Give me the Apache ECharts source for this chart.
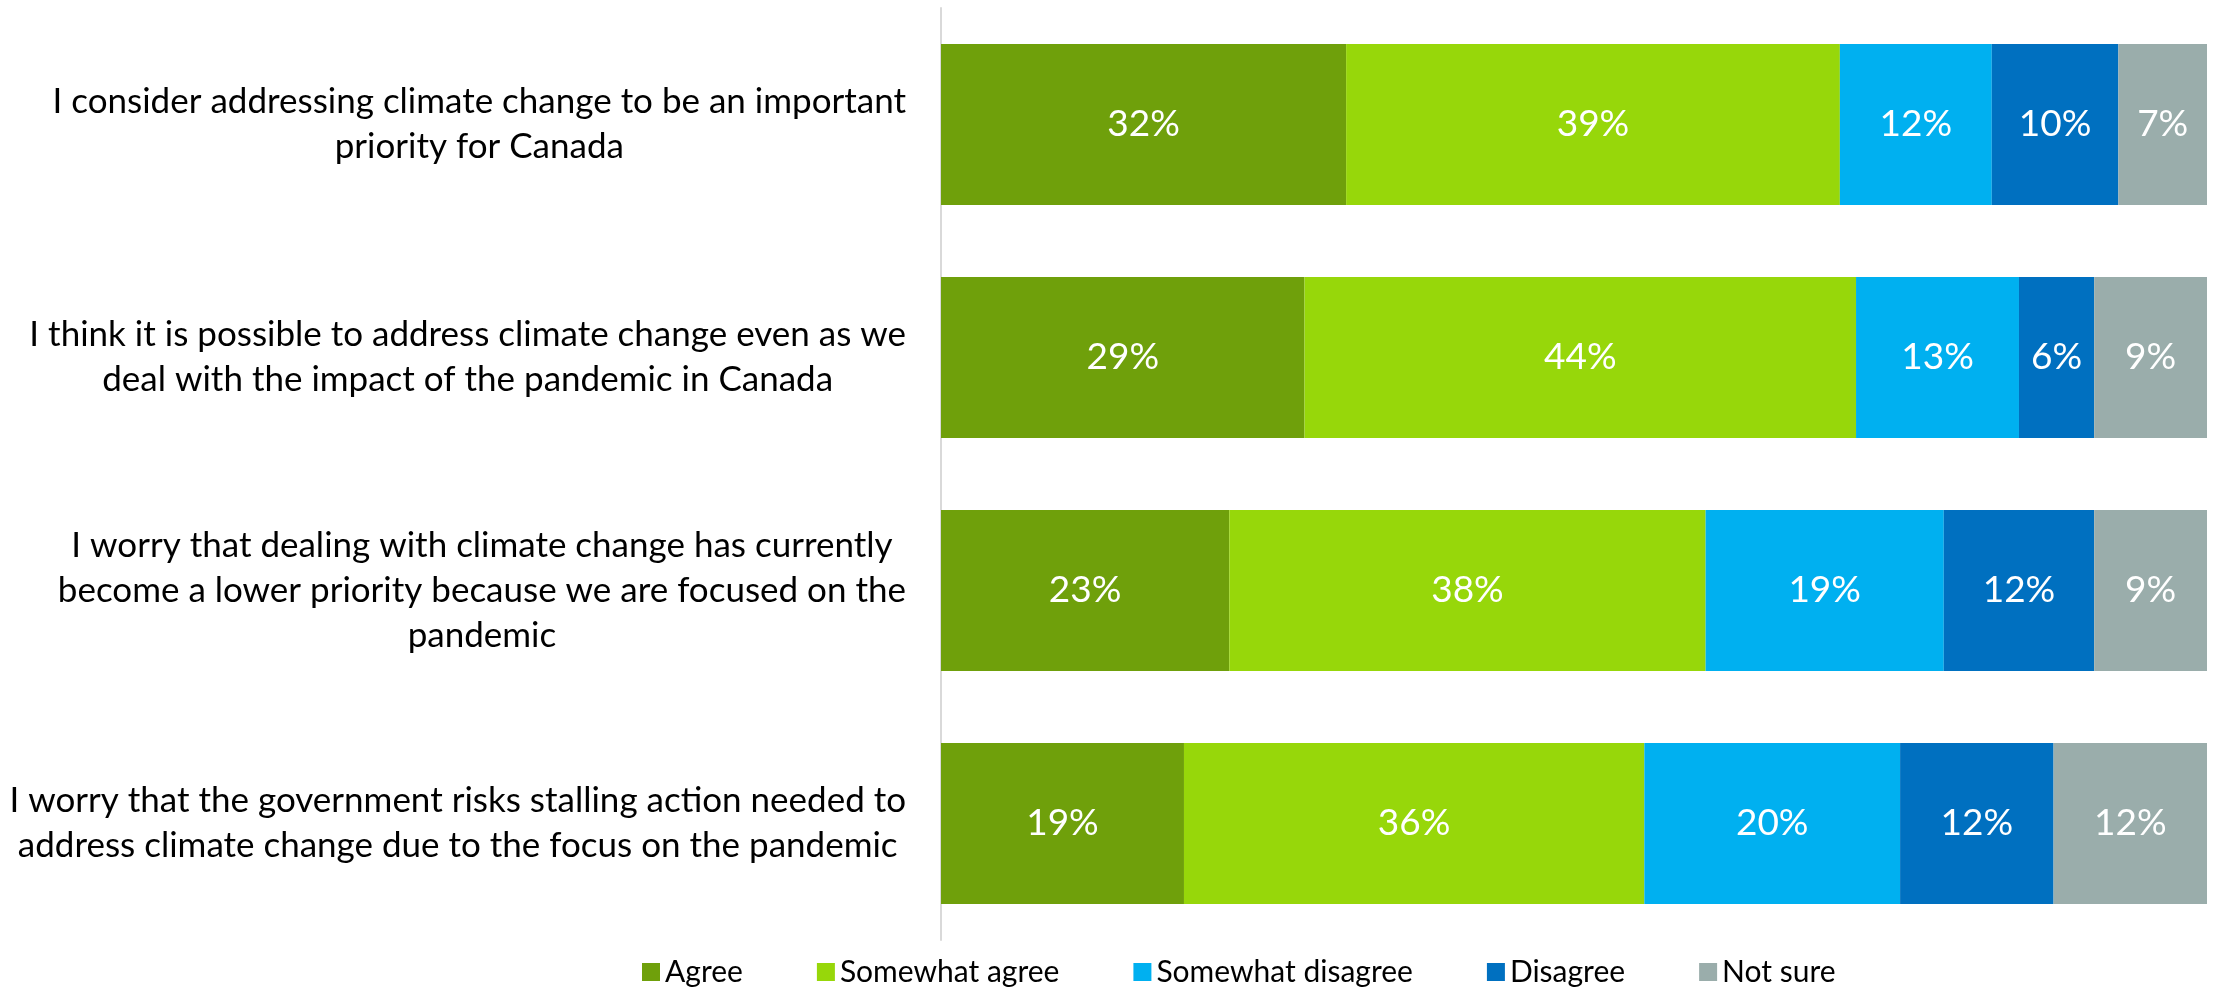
<!DOCTYPE html>
<html>
<head>
<meta charset="utf-8">
<title>Climate change priorities</title>
<script src="https://cdn.jsdelivr.net/npm/echarts@6/dist/echarts.min.js"></script>
<style>
  html, body { margin: 0; padding: 0; background: #fff; }
  #chart { width: 2215px; height: 987px; }
</style>
</head>
<body>
<div id="chart"></div>
<script>
// statements, top to bottom
const statements = [
  'I consider addressing climate change to be an important\npriority for Canada',
  'I think it is possible to address climate change even as we\ndeal with the impact of the pandemic in Canada',
  'I worry that dealing with climate change has currently\nbecome a lower priority because we are focused on the\npandemic',
  'I worry that the government risks stalling action needed to\naddress climate change due to the focus on the pandemic'
]

// answer shares (%) as printed on the bars
const agree = [32, 29, 23, 19]
const somewhatAgree = [39, 44, 38, 36]
const somewhatDisagree = [12, 13, 19, 20]
const disagree = [10, 6, 12, 12]
const notSure = [7, 9, 9, 12]

const seriesNames = ['Agree', 'Somewhat agree', 'Somewhat disagree', 'Disagree', 'Not sure']
const seriesValues = [agree, somewhatAgree, somewhatDisagree, disagree, notSure]
const colors = ['#6fa00b', '#97d70a', '#00b0f0', '#0070c0', '#9aadab']

const FONT = 'Lato'

// rounded shares don't always add to 100, bars are stretched to the full width
const rowTotals = statements.map((s, i) => seriesValues.reduce((sum, arr) => sum + arr[i], 0))

function createSerie(name, data, color) {
  return {
    name: name,
    type: 'bar',
    stack: 'total',
    barWidth: '69%',
    itemStyle: { color: color },
    label: {
      show: true,
      position: 'inside',
      color: '#fff',
      fontFamily: FONT,
      fontSize: 37,
      formatter: (p) => data[p.dataIndex] + '%'
    },
    data: data.map((v, i) => (v / rowTotals[i]) * 100),
    animation: false
  }
}

const chart = echarts.init(document.getElementById('chart'))
chart.setOption({
  backgroundColor: '#fff',
  color: colors,
  grid: { left: 941, right: 8, top: 8, bottom: 47, containLabel: false },
  xAxis: {
    type: 'value',
    min: 0,
    max: 100,
    show: false
  },
  yAxis: {
    type: 'category',
    inverse: true,
    data: statements,
    axisLine: { show: true, lineStyle: { color: '#d9d9d9', width: 2 } },
    axisTick: { show: false },
    axisLabel: {
      margin: 35,
      align: 'right',
      formatter: (v) => v.split('\n').map((line) => '{c|' + line + '}').join('\n'),
      rich: {
        c: { align: 'center', fontFamily: FONT, fontSize: 35, lineHeight: 45, color: '#000' }
      }
    }
  },
  legend: {
    left: 637,
    top: 952,
    itemWidth: 18,
    itemHeight: 18,
    itemGap: 74,
    icon: 'rect',
    textStyle: { fontFamily: FONT, fontSize: 30, lineHeight: 30, color: '#000' },
    data: seriesNames
  },
  series: seriesNames.map((n, i) => createSerie(n, seriesValues[i], colors[i]))
})
</script>
</body>
</html>
